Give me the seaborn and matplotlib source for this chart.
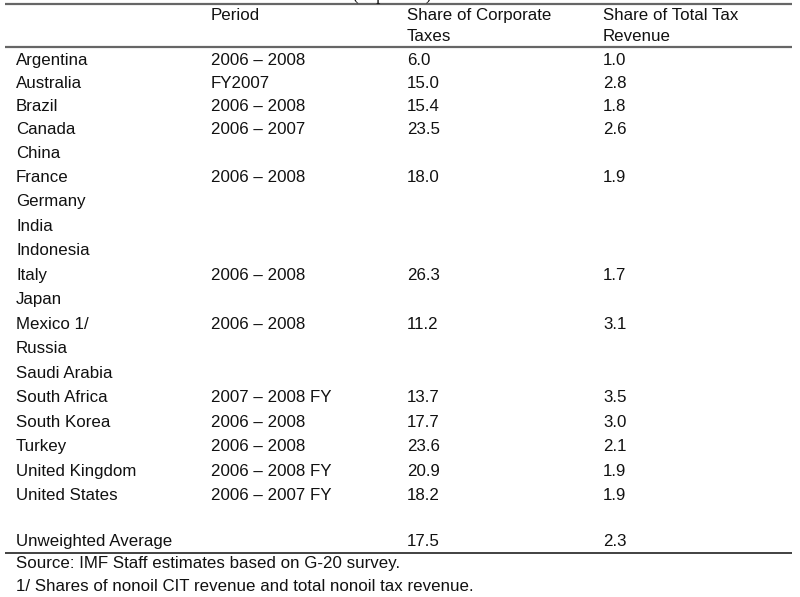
import matplotlib
matplotlib.use("Agg")
import matplotlib.pyplot as plt
import seaborn as sns
import pandas as pd

# ---- data ----
countries = ["Argentina", "Australia", "Brazil", "Canada", "China", "France",
             "Germany", "India", "Indonesia", "Italy", "Japan", "Mexico 1/",
             "Russia", "Saudi Arabia", "South Africa", "South Korea", "Turkey",
             "United Kingdom", "United States"]
periods = ["2006 \u2013 2008", "FY2007", "2006 \u2013 2008", "2006 \u2013 2007", "",
           "2006 \u2013 2008", "", "", "", "2006 \u2013 2008", "", "2006 \u2013 2008",
           "", "", "2007 \u2013 2008 FY", "2006 \u2013 2008", "2006 \u2013 2008",
           "2006 \u2013 2008 FY", "2006 \u2013 2007 FY"]
corp_share = [6.0, 15.0, 15.4, 23.5, None, 18.0, None, None, None, 26.3, None,
              11.2, None, None, 13.7, 17.7, 23.6, 20.9, 18.2]
total_share = [1.0, 2.8, 1.8, 2.6, None, 1.9, None, None, None, 1.7, None,
               3.1, None, None, 3.5, 3.0, 2.1, 1.9, 1.9]
avg_label = "Unweighted Average"
avg_corp = 17.5
avg_total = 2.3
headers = ["", "Period", "Share of Corporate", "Share of Total Tax"]
headers2 = ["", "", "Taxes", "Revenue"]
title_text = "(in percent)"
notes = ["Source: IMF Staff estimates based on G-20 survey.",
         "1/ Shares of nonoil CIT revenue and total nonoil tax revenue."]

df = pd.DataFrame({"country": countries, "period": periods,
                   "corp": corp_share, "total": total_share})

# ---- layout ----
sns.set_theme(style="white")
plt.rcParams["font.family"] = ["Liberation Sans", "DejaVu Sans"]
W, H = 800, 597
fig = plt.figure(figsize=(8.0, 5.97), dpi=100)
ax = fig.add_axes([0, 0, 1, 1])
ax.set_xlim(0, W)
ax.set_ylim(H, 0)
ax.axis("off")

fs = 12.15
col_x = [16, 211, 407, 603]
row_y = [59, 82, 105, 128, 152, 176, 200, 225, 249, 274, 298, 323, 347, 372,
         396, 421, 445, 470, 494]
off = 6.1  # baseline offset from cap centre
tc = "#111111"

def fmt(v):
    return "" if v is None or pd.isna(v) else f"{v:.1f}"

def put(x, yc, s):
    if s:
        ax.text(x, yc + off, s, fontsize=fs, va="baseline", ha="left", color=tc)

# title remnant (cut off at top, as in the source)
ax.text(353, -0.5, title_text, fontsize=fs, family=["Liberation Serif"],
        va="baseline", ha="left", color=tc)

# header
for x, h1, h2 in zip(col_x, headers, headers2):
    put(x, 14, h1)
    put(x, 35, h2)

for i, r in df.iterrows():
    y = row_y[i]
    put(col_x[0], y, r["country"])
    put(col_x[1], y, r["period"])
    put(col_x[2], y, fmt(r["corp"]))
    put(col_x[3], y, fmt(r["total"]))

put(col_x[0], 540, avg_label)
put(col_x[2], 540, fmt(avg_corp))
put(col_x[3], 540, fmt(avg_total))

put(col_x[0], 562, notes[0])
put(col_x[0], 585, notes[1])

# rules
ax.hlines([4, 47], 5, 792, color="#666666", lw=1.6)
ax.hlines([553], 5, 792, color="#333333", lw=1.3)

fig.savefig("out.png", dpi=100)
